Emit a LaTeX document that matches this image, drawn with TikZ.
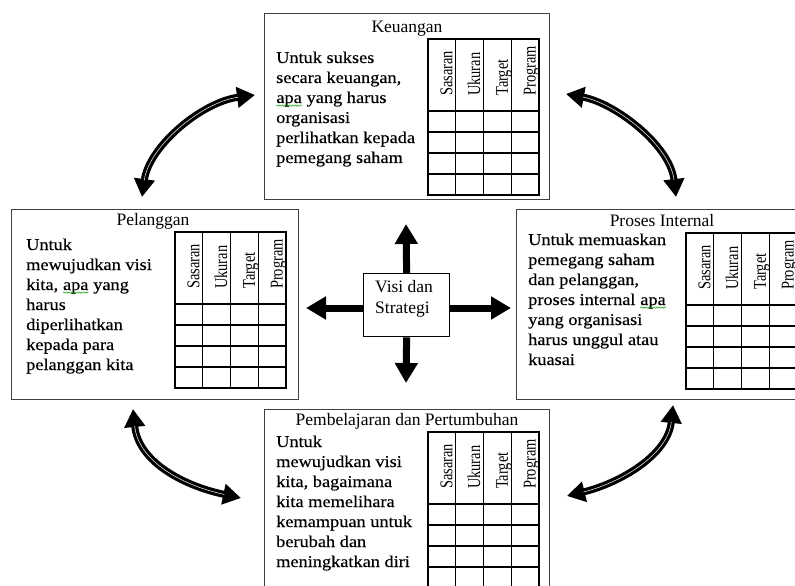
\documentclass[tikz,border=0pt]{standalone}
\usepackage{fontspec}
\setmainfont{Liberation Serif}
\newfontfamily\bodyfont{Liberation Serif}[FakeStretch=1.11,FakeBold=0.4]
\newfontfamily\hdrfont{Liberation Serif}[FakeStretch=0.8]
\usetikzlibrary{arrows.meta,decorations.pathmorphing}

\tikzset{
  frame/.style={draw=black!75, line width=1.4pt, fill=white, inner sep=0pt, anchor=north west},
  tabline/.style={draw=black, line width=1.2pt},
  hdr/.style={font=\hdrfont\fontsize{18}{18}\selectfont, rotate=90, anchor=base west, inner sep=0pt},
  ttl/.style={font=\fontsize{17.5}{20}\selectfont, anchor=base, inner sep=0pt},
  body/.style={font=\bodyfont\fontsize{16.5}{20}\selectfont, anchor=base west, inner sep=0pt},
  bigarrow/.style={line width=7pt, -{Triangle[length=20pt,width=22pt]}},
  curvarrow/.style={line width=7pt, {Triangle[length=18pt,width=20pt]}-{Triangle[length=18pt,width=20pt]}},
  curvcore/.style={white!85!gray, line width=0.55pt, shorten <=17pt, shorten >=17pt},
}

\newcommand\tline[1]{\hbox{#1}}
\newcommand\para[1]{\vtop{\baselineskip=20pt\lineskiplimit=-50pt #1}}
\newcommand\sqg[1]{\tikz[baseline=(sq.base)]{\node[inner sep=0pt,outer sep=0pt,anchor=base] (sq) {#1};
  \draw[green!60!black, line width=0.45pt, decorate, decoration={snake, amplitude=0.7pt, segment length=2.6pt}]
   ([yshift=-2.6pt]sq.base west) -- ([yshift=-2.6pt]sq.base east);}}

\newcommand\bsctab[3]{%
  \begin{scope}[shift={(#2,#3)}]
    \draw[tabline] (0,0) rectangle (111,156);
    \foreach \cx in {27.75,55.5,83.25} \draw[tabline] (\cx,0) -- (\cx,156);
    \foreach \ry in {72,93,114,135} \draw[tabline] (0,\ry) -- (111,\ry);
    \node[hdr] (#1-s) at (24.25,57) {Sasaran};
    \node[hdr] (#1-u) at (52,57) {Ukuran};
    \node[hdr] (#1-t) at (79.75,57) {Target};
    \node[hdr] (#1-p) at (107.5,57) {Program};
  \end{scope}}

\begin{document}
\begin{tikzpicture}[x=1pt,y=-1pt]
\useasboundingbox (0,0) rectangle (795,586);
\clip (0,0) rectangle (795,586);

% boxes
\node[frame, minimum width=285pt, minimum height=186pt] (keu) at (264,13) {};
\node[frame, minimum width=287pt, minimum height=190pt] (pel) at (11,209) {};
\node[frame, minimum width=300pt, minimum height=190pt] (pro) at (516,209) {};
\node[frame, minimum width=285pt, minimum height=200pt] (pem) at (264,409) {};

% tables
\bsctab{k}{428}{39}
\bsctab{l}{175}{232}
\bsctab{r}{686}{233}
\bsctab{b}{428}{432}

% titles
\node[ttl] (keut) at (407,33) {Keuangan};
\node[ttl] (pelt) at (153,225) {Pelanggan};
\node[ttl] (prot) at (662,226) {Proses Internal};
\node[ttl] (pemt) at (407,425) {Pembelajaran dan Pertumbuhan};

% body texts
\node[body] (keub) at (276,63) {\para{\tline{Untuk sukses}\tline{secara keuangan,}\tline{\sqg{apa} yang harus}\tline{organisasi}\tline{perlihatkan kepada}\tline{pemegang saham}}};
\node[body] (pelb) at (26,250) {\para{\tline{Untuk}\tline{mewujudkan visi}\tline{kita, \sqg{apa} yang}\tline{harus}\tline{diperlihatkan}\tline{kepada para}\tline{pelanggan kita}}};
\node[body] (prob) at (528,245) {\para{\tline{Untuk memuaskan}\tline{pemegang saham}\tline{dan pelanggan,}\tline{proses internal \sqg{apa}}\tline{yang organisasi}\tline{harus unggul atau}\tline{kuasai}}};
\node[body] (pemb) at (276,447) {\para{\tline{Untuk}\tline{mewujudkan visi}\tline{kita, bagaimana}\tline{kita memelihara}\tline{kemampuan untuk}\tline{berubah dan}\tline{meningkatkan diri}}};

% centre
\node[draw=black, line width=1.3pt, fill=white, minimum width=86pt, minimum height=63pt, anchor=north west, inner sep=0pt] (vis) at (363,273) {};
\node[font=\fontsize{17.5}{21}\selectfont, anchor=base west, inner sep=0pt] (vist) at (375,292) {\vtop{\baselineskip=21pt\lineskiplimit=-50pt\hbox{Visi dan}\hbox{Strategi}}};

\coordinate (au) at (406,224);
\coordinate (ad) at (406,383);
\coordinate (al) at (306,308);
\coordinate (ar) at (511,308);
\draw[bigarrow] (vis.north) -- (au);
\draw[bigarrow] (vis.south) -- (ad);
\draw[bigarrow] (vis.west |- al) -- (al);
\draw[bigarrow] (vis.east |- ar) -- (ar);

% curved double arrows
\coordinate (tla) at (142,197); \coordinate (tlb) at (255,95);
\coordinate (tra) at (566,94);  \coordinate (trb) at (676,197);
\coordinate (bla) at (133,409); \coordinate (blb) at (241,498);
\coordinate (bra) at (673,405); \coordinate (brb) at (567,496);

\draw[curvarrow] (tla) .. controls (149,146) and (202,102) .. (tlb);
\draw[curvcore]  (tla) .. controls (149,146) and (202,102) .. (tlb);
\draw[curvarrow] (tra) .. controls (615,103) and (670,145) .. (trb);
\draw[curvcore]  (tra) .. controls (615,103) and (670,145) .. (trb);
\draw[curvarrow] (bla) .. controls (138,460) and (180,485) .. (blb);
\draw[curvcore]  (bla) .. controls (138,460) and (180,485) .. (blb);
\draw[curvarrow] (bra) .. controls (668,455) and (620,483) .. (brb);
\draw[curvcore]  (bra) .. controls (668,455) and (620,483) .. (brb);
\end{tikzpicture}
\end{document}
